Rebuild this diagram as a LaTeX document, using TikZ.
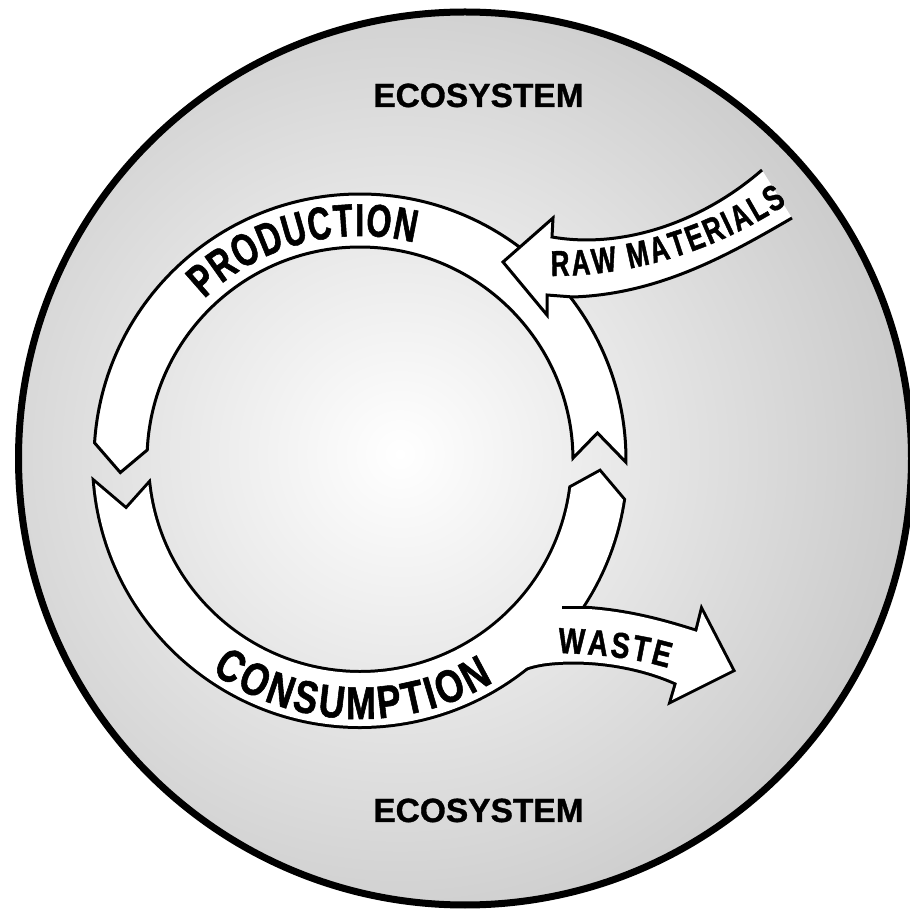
\documentclass[tikz,border=0pt]{standalone}
\usepackage{fontspec}
\newfontfamily\fE{Liberation Sans}[FakeBold=1.0]
\newfontfamily\fA{Liberation Sans}[FakeStretch=0.70, FakeBold=1.2]
\newfontfamily\fB{Liberation Sans}[FakeStretch=0.78, FakeBold=1.2]
\newfontfamily\fC{Liberation Sans}[FakeStretch=0.72, FakeBold=1.2]
\usetikzlibrary{decorations.text}
\newcommand\ConsPath{([shift={(C)}]185:266) arc[start angle=185, end angle=351.4, radius=266] -- ([shift={(C)}]357.1:240) -- ([shift={(C)}]352.5:213) arc[start angle=352.5, end angle=186.7, radius=213] -- ([shift={(C)}]192:239) -- cycle}
\newcommand\WastePath{(540,300) -- (562,306) .. controls (620,306) and (665,292) .. (697,282) -- (702,302) -- (732,244) -- (672,214) -- (677,231) .. controls (640,248) and (590,256) .. (547,251) .. controls (530,249) and (515,243) .. (507,237) -- (500,245) -- cycle}
\begin{document}
\begin{tikzpicture}[x=1pt,y=1pt,
  outl/.style={draw=black, line width=3pt, line join=miter},
  band/.style={outl, fill=white},
  eco/.style={font=\fontsize{33.5}{36}\fE\bfseries, anchor=base, inner sep=0pt}]
\useasboundingbox (0,0) rectangle (910,914);
\fill[white] (0,0) rectangle (910,914);
\coordinate (E) at (465,455.5);
\coordinate (C) at (360,454);
% ecosystem disc
\begin{scope}
  \clip (E) circle (446.5);
  \shade[inner color=white, outer color=black!24] (400,460) circle (600);
\end{scope}
\draw[line width=7pt] (E) circle (446.5);
% production arrow
\path[band] ([shift={(C)}]-0.5:266) arc[start angle=-0.5, end angle=176.3, radius=266]
  -- ([shift={(C)}]183:240) -- ([shift={(C)}]177.3:213)
  arc[start angle=177.3, end angle=0.5, radius=213]
  -- ([shift={(C)}]6.5:239) -- cycle;
% raw materials arrow
\coordinate (rT) at (503,652);
\coordinate (rUB) at (553,696);
\coordinate (rUI) at (552,677);
\coordinate (rUE) at (762,744);
\coordinate (rLE) at (792,696);
\coordinate (rLC) at (573,617);
\coordinate (rLI) at (547,619);
\coordinate (rLB) at (547,599);
\fill[white] (rUE) .. controls (700,690) and (620,665) .. (rUI) -- (rUB) -- (rT) -- (rLB) -- (rLI) -- (rLC)
  .. controls (660,620) and (730,660) .. (rLE) -- cycle;
\draw[outl] (rUE) .. controls (700,690) and (620,665) .. (rUI) -- (rUB) -- (rT) -- (rLB) -- (rLI) -- (rLC)
  .. controls (660,620) and (730,660) .. (rLE);
% consumption + waste (united outline)
\draw[line width=6pt, line join=miter] \ConsPath;
\draw[line width=6pt, line join=miter] \WastePath;
\fill[white] \ConsPath;
\fill[white] \WastePath;
\coordinate (wA) at (562,306);
\coordinate (wB) at (590,306);
\draw[line width=3pt] (wA) -- (wB);
% labels
\node[eco] (eco1) at (478.5,807) {ECOSYSTEM};
\node[eco] (eco2) at (478.5,92) {ECOSYSTEM};
\path[decorate, decoration={text along path, text align={fit to path},
  text={|\fontsize{46}{46}\fA\bfseries|PRODUCTION}}]
  ([shift={(C)}]134:224) arc[start angle=134, end angle=76, radius=224];
\path[decorate, decoration={text along path, text align={fit to path},
  text={|\fontsize{46}{46}\fB\bfseries|CONSUMPTION}}]
  ([shift={(C)}]235:259) arc[start angle=235, end angle=301, radius=259];
\path[decorate, decoration={text along path, text align={fit to path},
  text={|\fontsize{36}{36}\fC\bfseries|RAW MATERIALS}}]
  (551,638) .. controls (630,638) and (710,660) .. (787,710);
\path[decorate, decoration={text along path, text align={fit to path},
  text={|\fontsize{36}{36}\fB\bfseries|WASTE}}]
  (558,261) .. controls (595,260) and (635,256) .. (668,246);
\end{tikzpicture}
\end{document}
